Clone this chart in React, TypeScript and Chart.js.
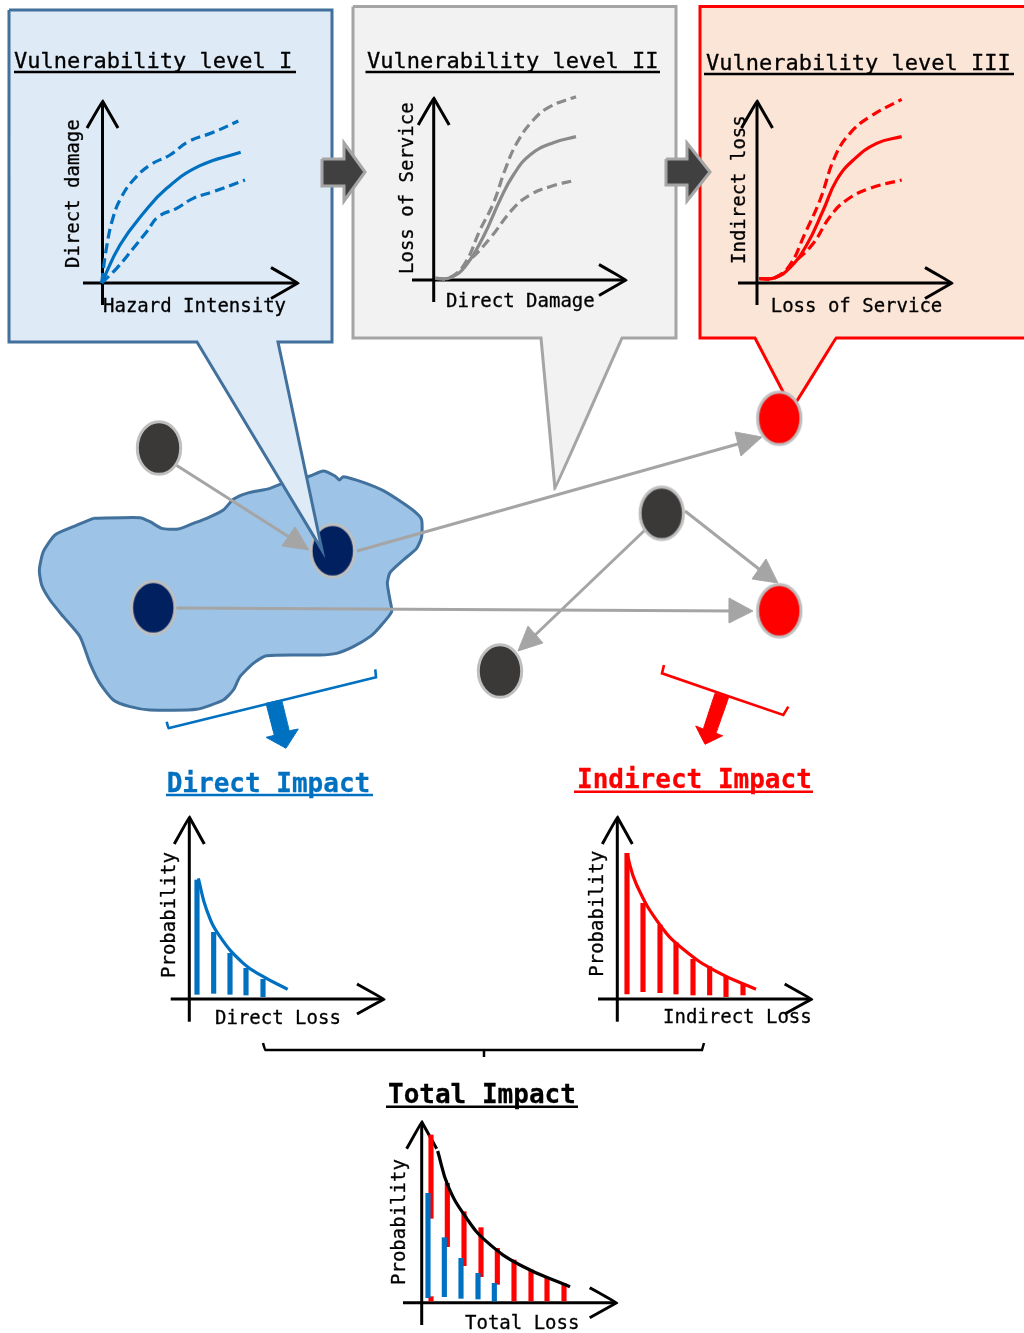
import React, { useEffect, useRef } from "react";
import { Chart, registerables } from "chart.js";

Chart.register(...registerables);

type P = number[];

// ---------- text ----------
const panelTitles = ["Vulnerability level I", "Vulnerability level II", "Vulnerability level III"];
const impactTitles = ["Direct Impact", "Indirect Impact", "Total Impact"];
const curveYLabels = ["Direct damage", "Loss of Service", "Indirect loss"];
const curveXLabels = ["Hazard Intensity", "Direct Damage", "Loss of Service"];
const lossYLabel = "Probability";
const lossXLabels = ["Direct Loss", "Indirect Loss", "Total Loss"];

// ---------- outlines (page pixels) ----------
const panelI: P[] = [[9, 10], [332, 10], [332, 342], [278, 342], [322, 550], [197, 342], [9, 342], [9, 10]];
const panelII: P[] = [[353, 6.5], [676, 6.5], [676, 338], [622, 338], [555, 489], [541, 338], [353, 338], [353, 6.5]];
const panelIII: P[] = [[1034, 338], [836, 338], [792, 409], [755, 338], [700, 338], [700, 6.5], [1034, 6.5]];
const stepArrowA: P[] = [[322, 159], [344, 159], [344, 143], [365, 172], [344, 201], [344, 186], [322, 186], [322, 159]];
const stepArrowB: P[] = [[666, 159], [687, 159], [687, 143], [710, 172], [687, 201], [687, 185], [666, 185], [666, 159]];

const regionOutline: P[] = [[220, 355], [360, 353], [390, 365], [425, 385], [475, 387], [520, 370], [560, 355], [610, 330], [640, 298], [680, 280], [750, 265], [800, 245], [870, 228], [910, 213], [945, 228], [958, 240], [970, 230], [1030, 247], [1090, 272], [1150, 310], [1190, 340], [1205, 360], [1205, 410], [1190, 445], [1150, 480], [1110, 518], [1102, 550], [1110, 600], [1115, 635], [1080, 680], [1050, 710], [1000, 740], [950, 760], [900, 765], [740, 767], [700, 790], [660, 830], [640, 870], [610, 900], [530, 928], [390, 930], [330, 920], [280, 900], [240, 850], [210, 790], [180, 710], [130, 650], [90, 600], [65, 555], [58, 510], [70, 455], [105, 405], [160, 380], [220, 355]];

const darkNodes: P[] = [[159, 448], [661.7, 513.3], [500, 671]];
const navyNodes: P[] = [[332.7, 550.7], [153.3, 607.7]];
const redNodes: P[] = [[779.3, 418.3], [779.3, 610.7]];

const links: P[][] = [
  [[176, 465], [297, 542]],
  [[357, 551], [745, 442]],
  [[176, 608], [735, 611]],
  [[685, 511], [764, 573]],
  [[645, 530], [532, 638]],
];
const linkHeads: P[][] = [
  [[295, 527], [309, 550], [282, 546], [295, 527]],
  [[735, 432], [762, 437], [741, 456], [735, 432]],
  [[729, 598], [753, 611], [729, 623], [729, 598]],
  [[766, 559], [778, 583], [752, 579], [766, 559]],
  [[528, 626], [518, 651], [543, 643], [528, 626]],
];

const blueBrace: P[] = [[166.7, 721.7], [168.3, 728.3], [376, 677.3], [375.3, 669.3]];
const blueDrop: P[] = [[266, 703.3], [281.7, 700], [289.3, 730.7], [298.3, 729], [286, 748.3], [266, 737.3], [274.3, 735.3], [266, 703.3]];
const redBrace: P[] = [[664, 665], [662, 673.3], [783.3, 715], [788.3, 706.7]];
const redDrop: P[] = [[715, 693.3], [728.7, 697.3], [716, 733.3], [722.7, 735.7], [705, 744.3], [695.7, 726], [703.3, 729], [715, 693.3]];
const sumBrace: P[] = [[263, 1043], [265, 1050], [484, 1050], [484, 1057], [484, 1050], [702, 1050], [704, 1043]];

// ---------- vulnerability curves (points in 3x crop units, see crop()) ----------
const curveIMid: P[] = [[305, 849], [360, 735], [430, 640], [500, 565], [600, 497], [722, 457]];
const curveIHigh: P[] = [[305, 849], [320, 740], [340, 650], [365, 590], [400, 540], [450, 495], [510, 465], [565, 425], [640, 397], [715, 363]];
const curveILow: P[] = [[305, 849], [350, 805], [400, 745], [440, 695], [475, 650], [530, 625], [580, 595], [640, 575], [735, 540]];
const curveIIMid: P[] = [[285, 835], [330, 833], [375, 800], [430, 710], [480, 600], [520, 525], [570, 465], [640, 428], [708, 410]];
const curveIIHigh: P[] = [[285, 835], [330, 833], [375, 790], [420, 690], [460, 610], [495, 510], [530, 430], [580, 360], [630, 320], [708, 290]];
const curveIILow: P[] = [[285, 835], [330, 833], [390, 780], [450, 715], [520, 625], [570, 585], [630, 560], [708, 540]];
const curveIIIMid: P[] = [[238, 836], [285, 833], [330, 803], [380, 735], [430, 630], [470, 540], [520, 480], [590, 430], [665, 410]];
const curveIIIHigh: P[] = [[238, 836], [285, 833], [330, 795], [375, 700], [420, 600], [465, 470], [510, 400], [570, 350], [665, 298]];
const curveIIILow: P[] = [[238, 836], [285, 833], [350, 780], [400, 730], [450, 650], [500, 600], [570, 565], [665, 540]];

// ---------- loss curves and bars (3x crop units) ----------
const directCurve: P[] = [[175, 355], [200, 450], [240, 530], [310, 610], [370, 650], [443, 688]];
const directBarX = [171, 221, 270, 318, 369];
const directBarTop = [360, 517, 580, 625, 658];
const directBarBase = [703, 700, 703, 705, 710];

const indirectCurve: P[] = [[170, 280], [200, 375], [270, 495], [340, 568], [440, 635], [558, 688]];
const indirectBarX = [171, 219, 270, 318, 369, 419, 468, 519];
const indirectBarTop = [280, 430, 495, 548, 598, 620, 650, 672];
const indirectBarBase = [702, 695, 698, 702, 705, 705, 710, 705];

const totalCurve: P[] = [[203, 228], [235, 335], [290, 430], [350, 500], [450, 570], [600, 635]];
const totalRedX = [183, 232, 282, 333, 382, 432, 483, 531, 582];
const totalRedTop = [180, 325, 410, 458, 520, 555, 585, 610, 625];
const totalRedBase = [430, 515, 572, 605, 628, 678, 678, 678, 678];
const totalRedStubX = [183];
const totalRedStubTop = [665];
const totalRedStubBase = [678];
const totalBlueX = [174, 223, 273, 324, 373];
const totalBlueTop = [355, 488, 550, 595, 625];
const totalBlueBase = [668, 665, 670, 672, 678];

// ---------- axes: vertical x, top, bottom, horizontal y, left, right, head size ----------
const axisFrames: { x: number; top: number; bottom: number; y: number; left: number; right: number; back: number; spread: number }[] = [
  { x: 102.5, top: 101, bottom: 305, y: 283, left: 83, right: 298, back: 27, spread: 15.5 },
  { x: 433.7, top: 98, bottom: 302, y: 280, left: 412, right: 626, back: 27, spread: 15.5 },
  { x: 757, top: 101, bottom: 305, y: 283, left: 738, right: 952, back: 27, spread: 15.5 },
  { x: 189.3, top: 817, bottom: 1021.7, y: 999, left: 170.7, right: 384, back: 27, spread: 15 },
  { x: 617.3, top: 817, bottom: 1021.7, y: 999, left: 598, right: 811.7, back: 27, spread: 15 },
  { x: 421.7, top: 1121.7, bottom: 1325, y: 1302.7, left: 403, right: 616.7, back: 27, spread: 15 },
];

const BLUE = "#0070c0";
const RED = "#ff0000";
const GREY = "#a5a5a5";
const CURVE_GREY = "#8a8a8a";
const FONT = '"DejaVu Sans Mono"';

const pts = (list: P[]) => list.map(([x, y]) => ({ x, y }));
const crop = (list: P[], ox: number, oy: number): P[] => list.map(([x, y]) => [x / 3 + ox, y / 3 + oy]);

function ellipseMark(fill: string) {
  const c = document.createElement("canvas");
  c.width = 50;
  c.height = 58;
  const g = c.getContext("2d")!;
  g.beginPath();
  g.ellipse(25, 29, 21.7, 26.3, 0, 0, Math.PI * 2);
  g.fillStyle = fill;
  g.fill();
  g.lineWidth = 3;
  g.strokeStyle = "#bfbfbf";
  g.stroke();
  return c;
}

function line(list: P[], color: string, width = 3, extra: any = {}) {
  return {
    type: "line",
    data: pts(list),
    borderColor: color,
    borderWidth: width,
    pointRadius: 0,
    tension: 0.0001,
    capBezierPoints: false,
    fill: false,
    ...extra,
  };
}
function shape(list: P[], fill: string, stroke: string, width = 3, tension = 0.0001) {
  return line(list, stroke, width, { fill: "shape", backgroundColor: fill, borderJoinStyle: "miter", tension });
}
function curve(list: P[], color: string, width = 3.2) {
  return line(list, color, width, { tension: 0.45, borderCapStyle: "butt" });
}
function dashed(list: P[], color: string, width = 3.2) {
  return line(list, color, width, { tension: 0.45, borderDash: [10, 5] });
}
function bars(xs: number[], tops: number[], bases: number[], ox: number, oy: number, color: string, thick = 4.5) {
  return {
    type: "bar",
    data: xs.map((x, i) => ({ x: x / 3 + ox, y: [tops[i] / 3 + oy, bases[i] / 3 + oy] })),
    backgroundColor: color,
    borderWidth: 0,
    barThickness: thick,
    grouped: false,
  };
}
function nodes(list: P[], fill: string) {
  return {
    type: "line",
    data: pts(list),
    showLine: false,
    pointRadius: 24,
    pointStyle: ellipseMark(fill),
  };
}
function axisLines(f: (typeof axisFrames)[number]) {
  return [
    line([[f.x, f.bottom], [f.x, f.top + 2]], "#000"),
    line([[f.left, f.y], [f.right - 2, f.y]], "#000"),
    line([[f.x - f.spread, f.top + f.back], [f.x, f.top], [f.x + f.spread, f.top + f.back]], "#000", 3, { borderJoinStyle: "miter" }),
    line([[f.right - f.back, f.y - f.spread], [f.right, f.y], [f.right - f.back, f.y + f.spread]], "#000", 3, { borderJoinStyle: "miter" }),
  ];
}

// Placement of the text: [text, x, baseline y, px, bold, colour, rotated]
const textPlacement: [string, number, number, number, boolean, string, boolean][] = [
  [panelTitles[0], 14, 68, 22, false, "#000", false],
  [panelTitles[1], 367, 68, 22, false, "#000", false],
  [panelTitles[2], 706, 70, 22, false, "#000", false],
  [curveYLabels[0], 79, 268, 19, false, "#000", true],
  [curveYLabels[1], 412.7, 274, 19, false, "#000", true],
  [curveYLabels[2], 745, 264, 19, false, "#000", true],
  [curveXLabels[0], 103, 312, 19, false, "#000", false],
  [curveXLabels[1], 446, 306.7, 19, false, "#000", false],
  [curveXLabels[2], 770.7, 311.7, 19, false, "#000", false],
  [impactTitles[0], 166.7, 791.7, 26, true, BLUE, false],
  [impactTitles[1], 577, 788, 26, true, RED, false],
  [impactTitles[2], 388, 1103, 26, true, "#000", false],
  [lossYLabel, 175, 978, 19, false, "#000", true],
  [lossYLabel, 603.3, 976.7, 19, false, "#000", true],
  [lossYLabel, 405, 1285, 19, false, "#000", true],
  [lossXLabels[0], 215, 1024, 19, false, "#000", false],
  [lossXLabels[1], 663, 1023, 19, false, "#000", false],
  [lossXLabels[2], 465, 1329, 19, false, "#000", false],
];

const underlines: { pts: P[]; color: string; width: number }[] = [
  { pts: [[14, 72], [296, 72]], color: "#000", width: 2.4 },
  { pts: [[365.5, 72], [660, 72]], color: "#000", width: 2.4 },
  { pts: [[704, 74], [1014, 74]], color: "#000", width: 2.4 },
  { pts: [[166, 795], [373, 795]], color: BLUE, width: 2.6 },
  { pts: [[574, 791.7], [813, 791.7]], color: RED, width: 2.6 },
  { pts: [[386, 1106.7], [578, 1106.7]], color: "#000", width: 2.6 },
];

const textPlugin = {
  id: "pageText",
  afterDatasetsDraw(chart: any) {
    const { ctx, scales } = chart;
    for (const [text, x, y, size, bold, color, rotated] of textPlacement) {
      ctx.save();
      ctx.translate(scales.x.getPixelForValue(x), scales.y.getPixelForValue(y));
      if (rotated) ctx.rotate(-Math.PI / 2);
      ctx.font = `${bold ? "bold " : ""}${size}px ${FONT}`;
      ctx.fillStyle = color;
      ctx.strokeStyle = color;
      ctx.lineWidth = 0.3;
      ctx.textBaseline = "alphabetic";
      ctx.textAlign = "left";
      ctx.fillText(text, 0, 0);
      ctx.strokeText(text, 0, 0);
      ctx.restore();
    }
  },
};

export default function App() {
  const ref = useRef<HTMLCanvasElement>(null);
  useEffect(() => {
    const layers: any[] = [
      shape(crop(regionOutline, 20, 400), "#9dc3e6", "#41719c", 3, 0.2),
      ...links.map((l) => line(l, GREY, 3)),
      ...linkHeads.map((h) => shape(h, GREY, GREY, 1)),
      shape(panelIII, "#fbe5d6", RED),
      shape(panelII, "#f2f2f2", GREY),
      nodes(darkNodes, "#3b3838"),
      nodes(navyNodes, "#002060"),
      nodes(redNodes, RED),
      shape(panelI, "#deeaf6", "#41719c"),
      shape(stepArrowA, "#404040", GREY),
      shape(stepArrowB, "#404040", GREY),
      line(blueBrace, BLUE, 2.6),
      shape(blueDrop, BLUE, BLUE, 1),
      line(redBrace, RED, 2.6),
      shape(redDrop, RED, RED, 1),
      line(sumBrace, "#000", 2.5),
      ...underlines.map((u) => line(u.pts, u.color, u.width)),
      ...axisFrames.flatMap(axisLines),
      curve(crop(curveIMid, 0, 0), BLUE),
      dashed(crop(curveIHigh, 0, 0), BLUE),
      dashed(crop(curveILow, 0, 0), BLUE),
      curve(crop(curveIIMid, 340, 0), CURVE_GREY),
      dashed(crop(curveIIHigh, 340, 0), CURVE_GREY),
      dashed(crop(curveIILow, 340, 0), CURVE_GREY),
      curve(crop(curveIIIMid, 680, 0), RED),
      dashed(crop(curveIIIHigh, 680, 0), RED),
      dashed(crop(curveIIILow, 680, 0), RED),
      bars(directBarX, directBarTop, directBarBase, 140, 760, BLUE),
      curve(crop(directCurve, 140, 760), BLUE),
      bars(indirectBarX, indirectBarTop, indirectBarBase, 570, 760, RED, 4.5),
      curve(crop(indirectCurve, 570, 760), RED),
      bars(totalRedX, totalRedTop, totalRedBase, 370, 1075, RED),
      bars(totalRedStubX, totalRedStubTop, totalRedStubBase, 370, 1075, RED),
      bars(totalBlueX, totalBlueTop, totalBlueBase, 370, 1075, BLUE),
      curve(crop(totalCurve, 370, 1075), "#000"),
    ];
    layers.forEach((d, i) => (d.order = layers.length - i));
    const chart = new Chart(ref.current!, {
      type: "line",
      data: { datasets: layers },
      options: {
        responsive: false,
        animation: false,
        devicePixelRatio: 1,
        events: [],
        layout: { padding: 0, autoPadding: false },
        plugins: { legend: { display: false }, tooltip: { enabled: false }, title: { display: false } },
        scales: {
          x: { type: "linear", min: 0, max: 1024, display: false, offset: false, grid: { offset: false } },
          y: { type: "linear", min: 0, max: 1333, reverse: true, display: false, beginAtZero: false },
        },
      },
      plugins: [textPlugin],
    } as any);
    return () => chart.destroy();
  }, []);
  return (
    <div style={{ position: "absolute", left: 0, top: 0, width: 1024, height: 1333 }}>
      <canvas ref={ref} width={1024} height={1333} style={{ display: "block" }} />
    </div>
  );
}
